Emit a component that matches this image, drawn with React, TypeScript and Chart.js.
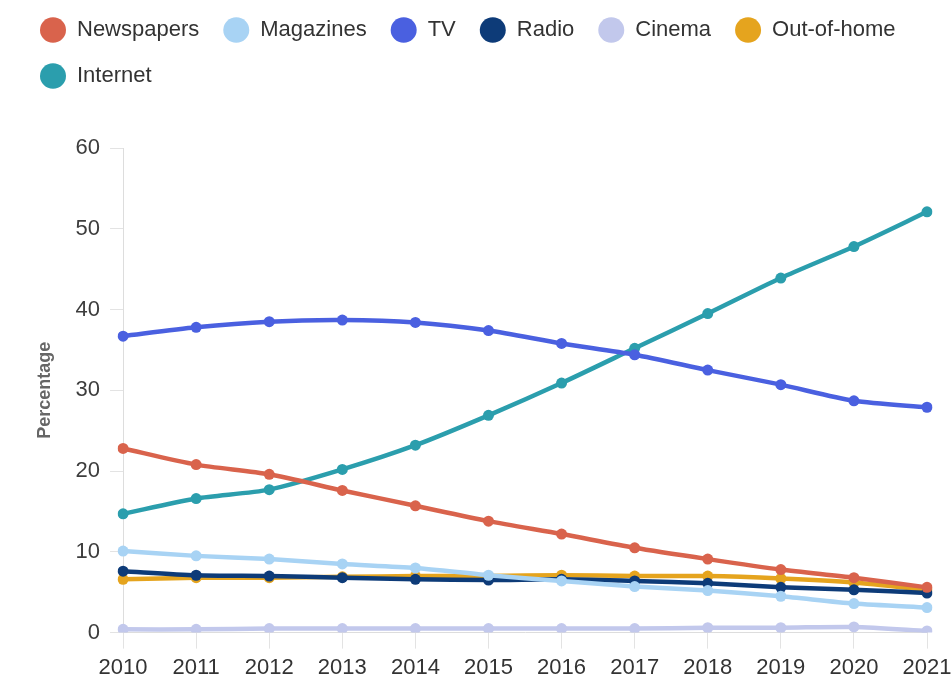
import React, { useEffect, useRef } from "react";
import { Chart, registerables } from "chart.js";

Chart.register(...registerables);

const years = ["2010", "2011", "2012", "2013", "2014", "2015", "2016", "2017", "2018", "2019", "2020", "2021"];
const newspapers = [22.8, 20.8, 19.6, 17.6, 15.7, 13.8, 12.2, 10.5, 9.1, 7.8, 6.8, 5.6];
const magazines = [10.1, 9.5, 9.1, 8.5, 8.0, 7.1, 6.4, 5.7, 5.2, 4.5, 3.6, 3.1];
const tv = [36.7, 37.8, 38.5, 38.7, 38.4, 37.4, 35.8, 34.4, 32.5, 30.7, 28.7, 27.9];
const radio = [7.6, 7.1, 7.0, 6.8, 6.6, 6.5, 6.6, 6.4, 6.1, 5.6, 5.3, 4.9];
const cinema = [0.4, 0.4, 0.5, 0.5, 0.5, 0.5, 0.5, 0.5, 0.6, 0.6, 0.7, 0.2];
const outOfHome = [6.6, 6.8, 6.8, 6.9, 7.0, 7.0, 7.1, 7.0, 7.0, 6.7, 6.2, 5.3];
const internet = [14.7, 16.6, 17.7, 20.2, 23.2, 26.9, 30.9, 35.2, 39.5, 43.9, 47.8, 52.1];

const seriesNames = ["Newspapers", "Magazines", "TV", "Radio", "Cinema", "Out-of-home", "Internet"];
const seriesValues = [newspapers, magazines, tv, radio, cinema, outOfHome, internet];
const seriesColors = ["#d9634c", "#a8d3f4", "#4a60e0", "#0d3b78", "#c2c8ec", "#e5a41e", "#2b9ead"];

const yTitle = "Percentage";

export default function App() {
  const canvasRef = useRef<HTMLCanvasElement | null>(null);

  useEffect(() => {
    if (!canvasRef.current) return;
    Chart.defaults.font.family = "'Liberation Sans', Arial, sans-serif";
    const legendSpacer = {
      id: "legendSpacer",
      beforeInit(chart: any) {
        const legend = chart.legend;
        if (!legend) return;
        const origFit = legend.fit;
        legend.fit = function () {
          origFit.bind(legend)();
          this.height += 51;
        };
      },
    };
    const chart = new Chart(canvasRef.current, {
      type: "line",
      data: {
        labels: years,
        datasets: seriesNames.map((name, i) => ({
          label: name,
          data: seriesValues[i],
          borderColor: seriesColors[i],
          backgroundColor: seriesColors[i],
          pointBackgroundColor: seriesColors[i],
          pointBorderColor: seriesColors[i],
          borderWidth: 4.5,
          pointRadius: 5.5,
          pointBorderWidth: 0,
          tension: 0.25,
          fill: false,
        })),
      },
      options: {
        animation: false,
        responsive: true,
        maintainAspectRatio: false,
        layout: { padding: { left: 16, top: -5, right: 25, bottom: -9 } },
        plugins: {
          legend: {
            position: "top",
            align: "start",
            labels: {
              usePointStyle: true,
              pointStyle: "circle",
              boxHeight: 18,
              pointStyleWidth: 26,
              padding: 24,
              color: "#333",
              font: { size: 22 },
            },
          },
          tooltip: { enabled: false },
        },
        scales: {
          x: {
            offset: false,
            afterFit: (scale: any) => {
              scale.paddingRight = 0;
            },
            grid: { drawOnChartArea: false, drawTicks: true, tickLength: 16, color: "#e3e3e3" },
            border: { display: true, color: "#ddd" },
            ticks: { color: "#333", font: { size: 22 }, padding: 6, maxRotation: 0, autoSkip: false },
          },
          y: {
            min: 0,
            max: 60,
            grid: { drawOnChartArea: false, drawTicks: true, tickLength: 13, color: "#e3e3e3" },
            border: { display: true, color: "#ddd" },
            ticks: { stepSize: 10, color: "#3d3d3d", font: { size: 22 }, padding: 10 },
            title: {
              display: true,
              text: yTitle,
              color: "#666",
              font: { size: 18, weight: "bold" },
              padding: { top: 18, bottom: 10 },
            },
          },
        },
      },
      plugins: [legendSpacer],
    });
    return () => chart.destroy();
  }, []);

  return (
    <div style={{ position: "fixed", left: 0, top: 0, width: 952, height: 678, background: "#fff" }}>
      <canvas ref={canvasRef} />
    </div>
  );
}
